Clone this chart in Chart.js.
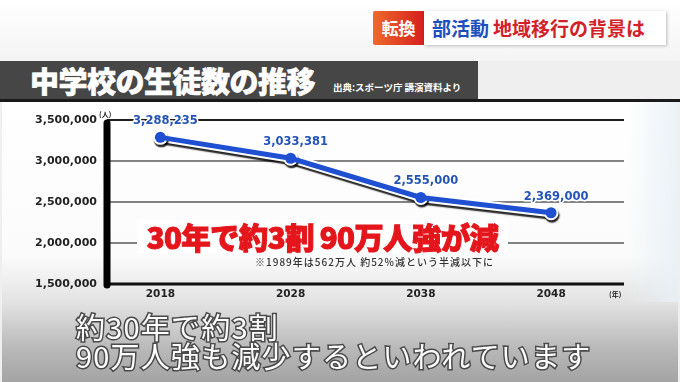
<!DOCTYPE html>
<html><head><meta charset="utf-8">
<script src="https://cdn.jsdelivr.net/npm/chart.js@4/dist/chart.umd.min.js"></script>
<style>
html,body{margin:0;padding:0;width:680px;height:382px;overflow:hidden;}
body{position:relative;background:#efefef;font-family:"Noto Sans CJK JP",sans-serif;}
.abs{position:absolute;}
#topbg{left:0;top:0;width:680px;height:61px;background:linear-gradient(#ffffff,#f4f4f4);}
#band{left:0;top:61px;width:478px;height:38px;background:#464646;}
#bandline{left:0;top:99px;width:680px;height:3px;background:#1a1a1a;}
#panel{left:2px;top:102px;width:676px;height:280px;background:linear-gradient(to bottom,#ffffff 0%,#fbfbfb 55%,#e2e2e2 72%,#b9b9b9 88%,#a3a3a3 100%);}
#panelR{left:628px;top:102px;width:50px;height:200px;background:linear-gradient(to right,rgba(240,246,250,0),rgba(232,240,246,0.9));}
#title{left:30px;top:63px;font-size:29px;font-weight:900;color:#fff;white-space:nowrap;line-height:34px;letter-spacing:-0.5px;-webkit-text-stroke:0.6px #fff;}
#source{left:333px;top:80px;font-size:9.5px;font-weight:700;color:#fff;white-space:nowrap;line-height:14px;}
#hdr1{left:373px;top:11px;width:51px;height:34px;background:linear-gradient(to right,#ee6a2a,#d61f1f);color:#fff;font-size:17px;font-weight:700;line-height:34px;text-align:center;border-radius:2px 0 0 2px;}
#hdr2{left:424px;top:11px;width:242px;height:34px;background:#fff;box-shadow:1px 1px 3px rgba(0,0,0,0.25);font-size:19px;font-weight:700;line-height:34px;white-space:nowrap;}
#hdr2 .b{color:#1d4fbf;margin-left:8px;}
#hdr2 .r{color:#d21f2a;margin-left:4px;}
#c{position:absolute;left:0;top:0;}
#headline{left:137px;top:219px;width:371px;height:34px;background:#fff;color:#e4161c;font-size:29.5px;font-weight:900;line-height:34px;white-space:nowrap;text-align:center;letter-spacing:-0.7px;-webkit-text-stroke:1px #e4161c;}
#note{left:255px;top:255px;font-size:10px;color:#333;white-space:nowrap;line-height:14px;font-weight:500;letter-spacing:1px;}
#unitY{left:99px;top:109px;font-size:7px;color:#222;font-weight:700;}
#unitX{left:609px;top:289px;font-size:7px;color:#222;font-weight:700;}
.cap{left:76px;font-size:29px;color:#fff;white-space:nowrap;line-height:30px;-webkit-text-stroke:3px #4a4a4a;paint-order:stroke fill;font-weight:400;letter-spacing:1.2px;}
#cap1{top:311px;}
#cap2{top:340px;}
</style></head>
<body>
<div id="topbg" class="abs"></div>
<div id="panel" class="abs"></div>
<div id="panelR" class="abs"></div>
<div id="band" class="abs"></div>
<div id="bandline" class="abs"></div>
<div id="title" class="abs">中学校の生徒数の推移</div>
<div id="source" class="abs">出典:スポーツ庁 講演資料より</div>
<div id="hdr1" class="abs">転換</div>
<div id="hdr2" class="abs"><span class="b">部活動</span><span class="r">地域移行の背景は</span></div>
<canvas id="c" width="680" height="382"></canvas>
<div id="headline" class="abs">30年で約3割 90万人強が減</div>
<div id="note" class="abs">※1989年は562万人 約52%減という半減以下に</div>
<div id="unitY" class="abs">(人)</div>
<div id="unitX" class="abs">(年)</div>
<div id="cap1" class="abs cap">約30年で約3割</div>
<div id="cap2" class="abs cap">90万人強も減少するといわれています</div>
<script>
const years = [2018, 2028, 2038, 2048];
const students = [3288235, 3033381, 2555000, 2369000];
const yTicks = [1500000, 2000000, 2500000, 3000000, 3500000];
const yMin = 1500000, yMax = 3500000;

const points = years.map((y, i) => ({x: y, y: students[i]}));
const numFont = '"DejaVu Sans", sans-serif';

const framePlugin = {
  id: 'frame',
  beforeDatasetsDraw(chart) {
    const {ctx, chartArea: a, scales: {y}} = chart;
    ctx.save();
    yTicks.forEach(v => {
      if (v === yMin) return;
      const py = y.getPixelForValue(v);
      ctx.beginPath();
      ctx.strokeStyle = v === yMax ? '#1e1e1e' : '#5a5a5a';
      ctx.lineWidth = v === yMax ? 2 : 1.5;
      ctx.moveTo(a.left, py); ctx.lineTo(a.right, py); ctx.stroke();
    });
    ctx.beginPath();
    ctx.strokeStyle = '#111'; ctx.lineWidth = 3;
    ctx.moveTo(a.left, a.bottom); ctx.lineTo(a.right, a.bottom); ctx.stroke();
    ctx.beginPath();
    ctx.strokeStyle = '#000'; ctx.lineWidth = 7; ctx.lineCap = 'round';
    ctx.moveTo(a.left, a.top + 3); ctx.lineTo(a.left, a.bottom + 1); ctx.stroke();
    ctx.restore();
  },
  beforeDatasetDraw(chart, args) {
    if (args.index === 1) {
      const ctx = chart.ctx;
      ctx.save();
      ctx.shadowColor = 'rgba(0,0,0,0.85)';
      ctx.shadowOffsetX = 1;
      ctx.shadowOffsetY = 2.5;
      ctx.shadowBlur = 1.2;
    }
  },
  afterDatasetDraw(chart, args) {
    if (args.index === 1) chart.ctx.restore();
  },
  afterDatasetsDraw(chart) {
    const {ctx} = chart;
    const meta = chart.getDatasetMeta(0);
    ctx.save();
    ctx.font = 'bold 11.5px ' + numFont;
    ctx.textAlign = 'center';
    ctx.textBaseline = 'middle';
    meta.data.forEach((pt, i) => {
      const txt = students[i].toLocaleString('en-US');
      const x = pt.x + 5, yy = pt.y - 16;
      ctx.lineWidth = 3; ctx.strokeStyle = '#fff'; ctx.lineJoin = 'round';
      ctx.strokeText(txt, x, yy);
      ctx.fillStyle = '#2453b8';
      ctx.fillText(txt, x, yy);
    });
    ctx.restore();
  }
};

new Chart(document.getElementById('c'), {
  type: 'line',
  data: {
    datasets: [
      {data: points, borderColor: '#1f50d2', borderWidth: 5, pointRadius: 5.5, pointBackgroundColor: '#1f50d2', pointBorderColor: '#1f50d2', pointBorderWidth: 0, tension: 0, clip: false},
      {data: points, borderColor: '#ffffff', borderWidth: 9, pointRadius: 7.5, pointBackgroundColor: '#fff', pointBorderWidth: 0, tension: 0, clip: false}
    ]
  },
  options: {
    responsive: false,
    animation: false,
    devicePixelRatio: 1,
    events: [],
    layout: {padding: {top: 120, right: 56, left: 0, bottom: 0}},
    plugins: {legend: {display: false}, tooltip: {enabled: false}},
    scales: {
      x: {
        type: 'linear', min: 2013.9, max: 2053.6,
        afterBuildTicks: s => { s.ticks = years.map(v => ({value: v})); },
        afterFit: s => { s.height = 98; },
        grid: {display: false, drawTicks: false}, border: {display: false},
        ticks: {padding: 4, color: '#222', font: {family: numFont, size: 10.5, weight: 'bold'}, callback: v => String(v)}
      },
      y: {
        type: 'linear', min: yMin, max: yMax,
        afterBuildTicks: s => { s.ticks = yTicks.map(v => ({value: v})); },
        afterFit: s => { s.width = 107; },
        grid: {display: false, drawTicks: false}, border: {display: false},
        ticks: {padding: 10, color: '#222', font: {family: numFont, size: 11, weight: 'bold'}, callback: v => v.toLocaleString('en-US')}
      }
    }
  },
  plugins: [framePlugin]
});
</script>
</body></html>
